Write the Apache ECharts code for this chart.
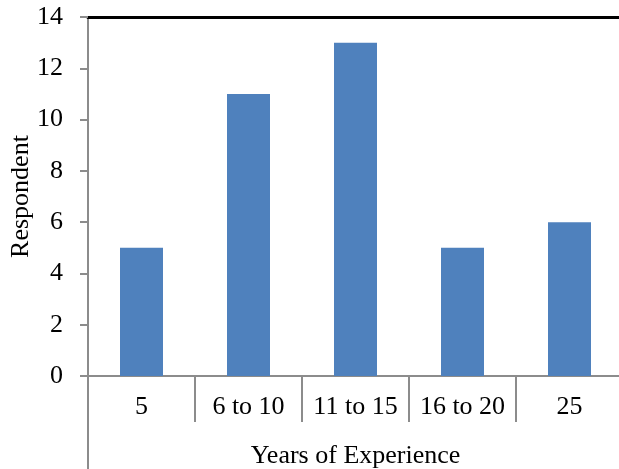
<!DOCTYPE html>
<html>
<head>
<meta charset="utf-8">
<script src="https://cdn.jsdelivr.net/npm/echarts@6/dist/echarts.min.js"></script>
<style>
  html, body { margin: 0; padding: 0; background: #fff; }
  #chart { width: 619px; height: 469px; }
</style>
</head>
<body>
<div id="chart"></div>
<script>
// Respondents by years of experience
const categories = ['5', '6 to 10', '11 to 15', '16 to 20', '25'];
const respondents = [5, 11, 13, 5, 6];
const yTicks = { min: 0, max: 14, interval: 2 };

const font = '"Liberation Serif", "Times New Roman", serif';
const axisGrey = '#8c8c8c';

const chart = echarts.init(document.getElementById('chart'), null, { renderer: 'canvas' });

chart.setOption({
  animation: false,
  backgroundColor: '#ffffff',
  grid: { left: 88, right: -4, top: 17, bottom: 93, containLabel: false, outerBoundsMode: 'none' },
  xAxis: [
    {
      type: 'category',
      data: categories,
      position: 'bottom',
      axisLine: { show: true, lineStyle: { color: axisGrey, width: 2 } },
      axisTick: { show: true, length: 46, interval: 0, alignWithLabel: false,
                  lineStyle: { color: axisGrey, width: 2 } },
      axisLabel: { color: '#000', fontFamily: font, fontSize: 26, margin: 18, interval: 0 },
      name: 'Years of Experience',
      nameLocation: 'middle',
      nameGap: 67,
      nameMoveOverlap: false,
      nameTextStyle: { color: '#000', fontFamily: font, fontSize: 26 }
    },
    {
      // frame line along the top of the plot
      type: 'category',
      data: categories,
      position: 'top',
      axisLine: { show: true, lineStyle: { color: '#000', width: 3 } },
      axisTick: { show: false },
      axisLabel: { show: false },
      splitLine: { show: false }
    }
  ],
  yAxis: {
    type: 'value',
    min: yTicks.min,
    max: yTicks.max,
    interval: yTicks.interval,
    axisLine: { show: true, lineStyle: { color: axisGrey, width: 2 } },
    axisTick: { show: true, length: 8, lineStyle: { color: axisGrey, width: 2 } },
    axisLabel: { color: '#000', fontFamily: font, fontSize: 26, margin: 25 },
    splitLine: { show: false },
    name: 'Respondent',
    nameLocation: 'middle',
    nameGap: 54,
    nameMoveOverlap: false,
    nameTextStyle: { color: '#000', fontFamily: font, fontSize: 26 }
  },
  graphic: [
    {
      // vertical axis continues down past the category band
      type: 'line',
      shape: { x1: 88, y1: 376, x2: 88, y2: 469 },
      style: { stroke: axisGrey, lineWidth: 2 },
      silent: true
    }
  ],
  series: [
    {
      type: 'bar',
      data: respondents,
      barWidth: 43,
      itemStyle: { color: '#4F81BD' }
    }
  ]
});
</script>
</body>
</html>
